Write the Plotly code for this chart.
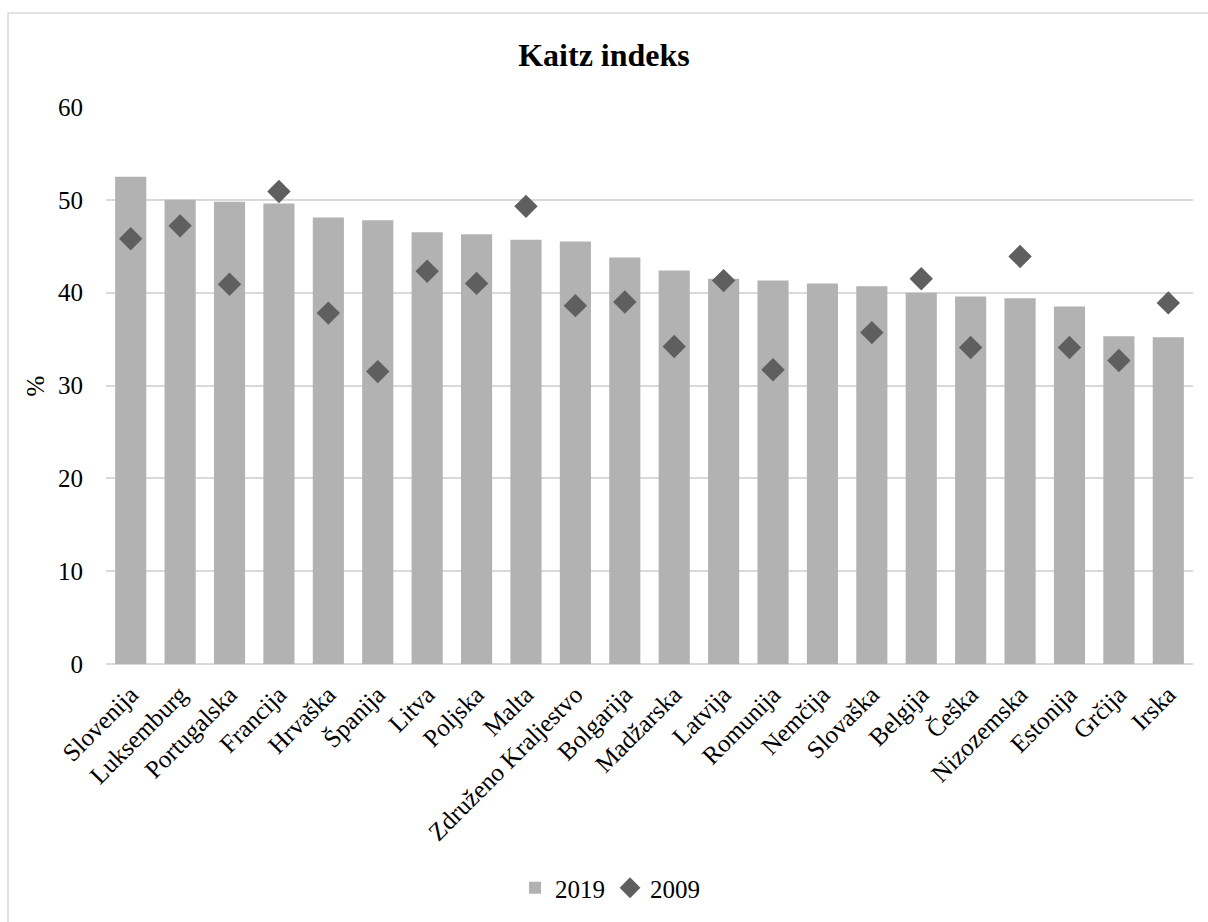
import plotly.graph_objects as go

countries = ["Slovenija", "Luksemburg", "Portugalska", "Francija", "Hrvaška", "Španija",
             "Litva", "Poljska", "Malta", "Združeno Kraljestvo", "Bolgarija", "Madžarska",
             "Latvija", "Romunija", "Nemčija", "Slovaška", "Belgija", "Češka",
             "Nizozemska", "Estonija", "Grčija", "Irska"]
values_2019 = [52.5, 50.0, 49.8, 49.6, 48.1, 47.8, 46.5, 46.3, 45.7, 45.5, 43.8, 42.4,
               41.5, 41.3, 41.0, 40.7, 40.0, 39.6, 39.4, 38.5, 35.3, 35.2]
values_2009 = [45.8, 47.2, 40.9, 50.9, 37.8, 31.5, 42.3, 41.0, 49.3, 38.6, 39.0, 34.2,
               41.3, 31.7, None, 35.7, 41.5, 34.1, 43.9, 34.1, 32.7, 38.9]
y_ticks = [0, 10, 20, 30, 40, 50, 60]

FONT = "Liberation Serif, Times New Roman, serif"
W, H = 1208, 922
L, R, T, B = 106, 15, 107, 258
pw, ph = W - L - R, H - T - B
FS = 25

fig = go.Figure()
fig.add_trace(go.Bar(x=countries, y=values_2019, name="2019",
                     marker=dict(color="#B2B2B2", line=dict(width=0)), width=0.63))
fig.add_trace(go.Scatter(x=countries, y=values_2009, name="2009", mode="markers",
                         marker=dict(symbol="diamond", size=18, color="#5F5F5F")))

fig.update_layout(
    width=W, height=H,
    margin=dict(l=L, r=R, t=T, b=B),
    paper_bgcolor="white", plot_bgcolor="white",
    font=dict(family=FONT, size=FS, color="#000000"),
    title=dict(text="<b>Kaitz indeks</b>", font=dict(size=32, family=FONT),
               x=0.5, xref="container", xanchor="center",
               y=1 - 55 / H, yref="container", yanchor="middle"),
    showlegend=True,
    legend=dict(orientation="h", x=0.505, xref="container", xanchor="center",
                y=1 - 888 / H, yref="container", yanchor="middle",
                font=dict(size=FS, family=FONT), itemwidth=30,
                traceorder="normal"),
    bargap=0.37,
    shapes=[dict(type="rect", xref="paper", yref="paper",
                 x0=(8 - L) / pw, x1=1.05, y0=-0.6, y1=(H - B - 13) / ph,
                 line=dict(color="#D9D9D9", width=1.5), fillcolor="rgba(0,0,0,0)",
                 layer="below")],
    annotations=[dict(text="%", xref="paper", yref="paper",
                      x=(35 - L) / pw, y=0.5, textangle=-90, showarrow=False,
                      font=dict(size=FS, family=FONT), xanchor="center", yanchor="middle")],
)
fig.update_xaxes(tickangle=-45, showgrid=False, showline=False, ticks="",
                 ticklabelstandoff=10, tickfont=dict(size=FS, family=FONT),
                 range=[-0.5, len(countries) - 0.5])
fig.update_yaxes(range=[0, 60], tickvals=y_ticks, showgrid=True, gridcolor="#D9D9D9",
                 gridwidth=1.5, zeroline=True, zerolinecolor="#D9D9D9", zerolinewidth=1.5,
                 ticks="", ticklabelstandoff=22, tickfont=dict(size=FS, family=FONT))

fig.write_html("out.html")
